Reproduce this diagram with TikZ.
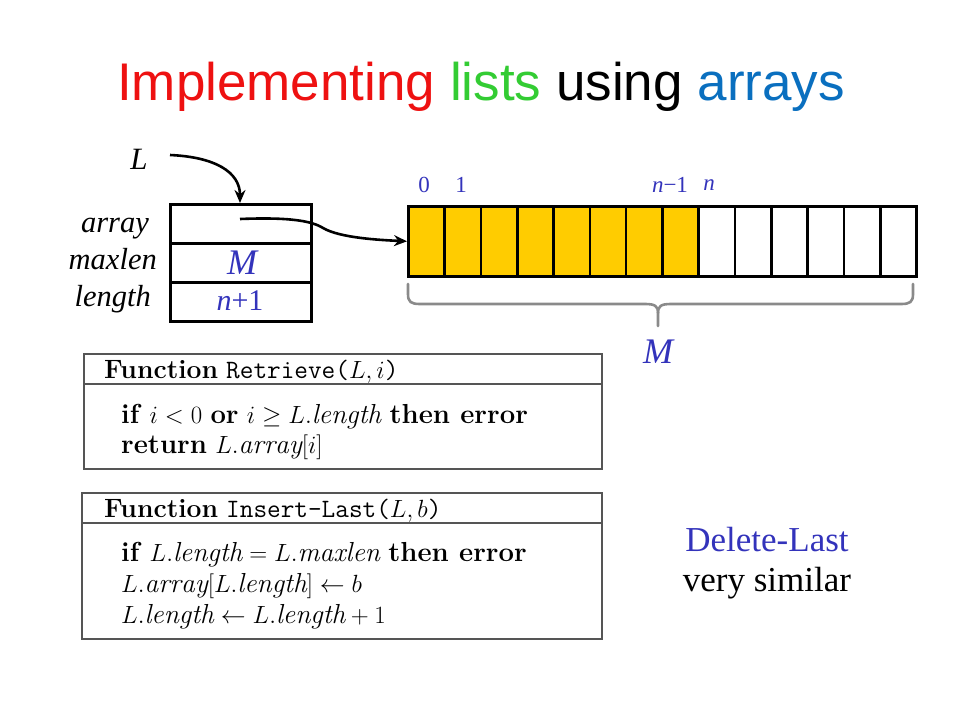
\documentclass[tikz,border=0pt]{standalone}
\usepackage{fontspec}
\usepackage{amsmath}
\usetikzlibrary{arrows.meta}
\newfontfamily\arialf{Liberation Sans}
\newfontfamily\tnrf{Liberation Serif}
\definecolor{tred}{HTML}{EE1111}
\definecolor{tgreen}{HTML}{33CC33}
\definecolor{tblue}{HTML}{0A6FBF}
\definecolor{lblue}{HTML}{3333BB}
\definecolor{gold}{HTML}{FFCC00}
\definecolor{boxgray}{HTML}{555555}
\definecolor{bracegray}{HTML}{8A8A8A}
\tikzset{
  cell/.style={draw=black, line width=2.6pt, minimum width=36.3pt, minimum height=70pt, inner sep=0pt, anchor=north west},
  fcell/.style={cell, fill=gold},
  row/.style={draw=black, line width=2.6pt, minimum width=141pt, minimum height=39pt, inner sep=0pt, anchor=north west},
  lab/.style={font=\tnrf\itshape\fontsize{30.5}{33}\selectfont, anchor=base east, inner sep=0pt},
  val/.style={font=\tnrf\itshape\fontsize{36}{40}\selectfont, text=lblue, inner sep=0pt},
  idx/.style={font=\tnrf\fontsize{23}{26}\selectfont, text=lblue, inner sep=0pt},
  fbox/.style={draw=boxgray, line width=1.6pt, anchor=north west, inner sep=0pt},
  code/.style={font=\fontsize{27.5}{33}\selectfont, anchor=base west, inner sep=0pt},
  head/.style={font=\fontsize{26.5}{30}\selectfont, anchor=base west, inner sep=0pt},
  ptr/.style={line width=2.6pt, -{Stealth[length=13pt,width=11pt]}},
}
\begin{document}
\begin{tikzpicture}[x=1pt,y=-1pt]
\useasboundingbox (0,0) rectangle (960,720);
% title
\node[font=\arialf\fontsize{53}{60}\selectfont, inner sep=0pt, anchor=base] (title) at (481,100)
  {\textcolor{tred}{Implementing} \textcolor{tgreen}{lists} \textcolor{black}{using} \textcolor{tblue}{arrays}};
% struct
\node[font=\tnrf\itshape\fontsize{31}{34}\selectfont, inner sep=0pt] (L) at (139,159) {L};
\node[row] (rarr) at (169,203) {};
\node[row] (rmax) at (169,242) {};
\node[row] (rlen) at (169,281) {};
\node[lab] (larr) at (149,232) {array};
\node[lab] (lmax) at (157,269) {maxlen};
\node[lab] (llen) at (151,306) {length};
\node[val] (vM) at (242,263) {M};
\node[val, font=\tnrf\fontsize{30}{34}\selectfont] (vn) at (240,301) {\textit{n}+1};
\coordinate (Lstart) at (170,155);
\coordinate (ptrstart) at (240,219);
% array
\foreach \i in {0,...,7} { \node[fcell] (c\i) at ({407+36.3*\i},205) {}; }
\foreach \i in {8,...,13} { \node[cell] (c\i) at ({407+36.3*\i},205) {}; }
\node[idx] (i0) at (424,185) {0};
\node[idx] (i1) at (461,185) {1};
\node[idx] (i2) at (670,185) {\textit{n}−1};
\node[idx] (i3) at (709,185) {\textit{n}};
% arrows
\draw[ptr] (Lstart) .. controls (215,157) and (240,172) .. (rarr.north -| 240,0);
\draw[ptr] (ptrstart) .. controls (290,217) and (312,221) .. (323,228) .. controls (340,238) and (380,240) .. (c0.west);
% brace
\draw[bracegray, line width=2.6pt, line cap=round]
  (408,284) -- (408,294) .. controls (408,302) and (411,304) .. (420,304) -- (645,304)
  .. controls (655,304) and (658,306) .. (658,313) -- (658,326);
\draw[bracegray, line width=2.6pt, line cap=round]
  (913,284) -- (913,294) .. controls (913,302) and (910,304) .. (901,304) -- (671,304)
  .. controls (661,304) and (658,306) .. (658,313);
\node[val] (braceM) at (658,352) {M};
% function boxes
\node[fbox, minimum width=518pt, minimum height=115pt] (f1) at (83,353) {};
\draw[boxgray, line width=1.6pt] (f1.west |- 0,384) -- (f1.east |- 0,384);
\node[head] (f1h) at (104,378) {\textbf{Function} \texttt{Retrieve(}$L,i$\texttt{)}};
\node[code] (f1a) at (121,423) {\textbf{if} $i<0$ \textbf{or} $i\geq L.\mathit{length}$ \textbf{then error}};
\node[code] (f1b) at (121,453) {\textbf{return} $L.\mathit{array}[i]$};
\node[fbox, minimum width=520pt, minimum height=146pt] (f2) at (81,492) {};
\draw[boxgray, line width=1.6pt] (f2.west |- 0,523) -- (f2.east |- 0,523);
\node[head] (f2h) at (104,517) {\textbf{Function} \texttt{Insert-Last(}$L,b$\texttt{)}};
\node[code] (f2a) at (121,561) {\textbf{if} $L.\mathit{length}=L.\mathit{maxlen}$ \textbf{then error}};
\node[code] (f2b) at (121,592) {$L.\mathit{array}[L.\mathit{length}]\leftarrow b$};
\node[code] (f2c) at (121,623) {$L.\mathit{length}\leftarrow L.\mathit{length}+1$};
% side note
\node[font=\tnrf\fontsize{35}{40}\selectfont, text=lblue, inner sep=0pt] (dl) at (767,540) {Delete-Last};
\node[font=\tnrf\fontsize{35}{40}\selectfont, inner sep=0pt] (vs) at (767,583) {very similar};
\end{tikzpicture}
\end{document}
